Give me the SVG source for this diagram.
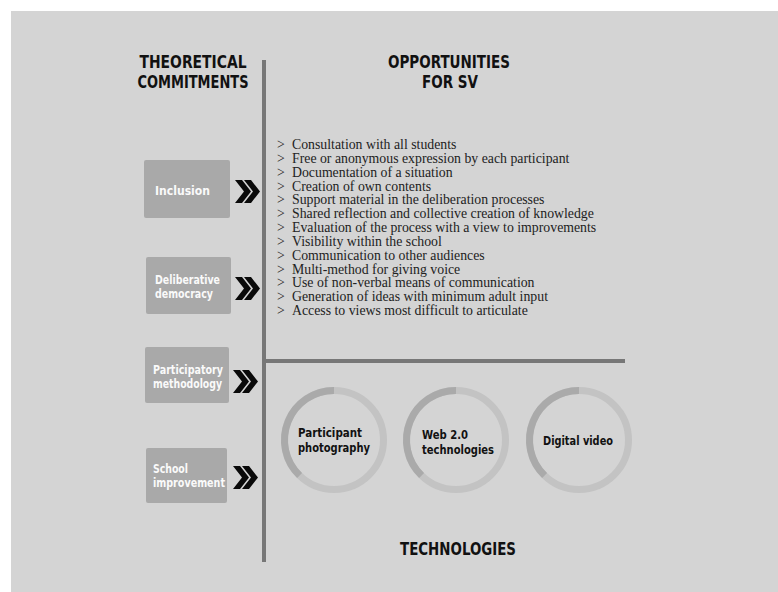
<svg xmlns="http://www.w3.org/2000/svg" width="778" height="592" viewBox="0 0 778 592">
<defs>
<style>
.hdr{font-family:"DejaVu Sans Condensed","DejaVu Sans",sans-serif;font-stretch:condensed;font-weight:bold;font-size:18px;fill:#111;text-anchor:middle}
.box{fill:#a9a9a9}
.blbl{font-family:"DejaVu Sans Condensed","DejaVu Sans",sans-serif;font-stretch:condensed;font-weight:bold;font-size:12px;fill:#fafafa}
.clbl{font-family:"DejaVu Sans Condensed","DejaVu Sans",sans-serif;font-stretch:condensed;font-weight:bold;font-size:13px;fill:#111}
.item{font-family:"Liberation Serif","Times New Roman",serif;font-size:13.8px;fill:#222}
.ring{fill:none;stroke:#c3c3c3;stroke-width:7}
.ringd{fill:none;stroke:#aaaaaa;stroke-width:7}
.line{stroke:#777;stroke-width:4;fill:none}
</style>
<g id="chev"><polygon points="0,0 7,0 16,11.5 7,23 0,23 9,11.5" fill="#0a0a0a"/><polygon points="9,0 16,0 25,11.5 16,23 9,23 18,11.5" fill="#0a0a0a"/></g>
</defs>
<rect width="778" height="592" fill="#ffffff"/>
<rect x="11" y="11" width="767" height="581" fill="#d4d4d4"/>

<g id="headers">
<text class="hdr" x="193" y="68" textLength="107" lengthAdjust="spacingAndGlyphs">THEORETICAL</text>
<text class="hdr" x="193" y="88" textLength="111" lengthAdjust="spacingAndGlyphs">COMMITMENTS</text>
<text class="hdr" x="449" y="68" textLength="122" lengthAdjust="spacingAndGlyphs">OPPORTUNITIES</text>
<text class="hdr" x="450" y="88" textLength="56" lengthAdjust="spacingAndGlyphs">FOR SV</text>
<text class="hdr" x="458" y="555" font-size="19" textLength="116" lengthAdjust="spacingAndGlyphs">TECHNOLOGIES</text>
</g>

<g id="connectors">
<line class="line" x1="264" y1="60" x2="264" y2="562"/>
<line class="line" x1="264" y1="361" x2="625" y2="361"/>
<use href="#chev" x="235" y="180"/>
<use href="#chev" x="235" y="277"/>
<use href="#chev" x="233" y="370"/>
<use href="#chev" x="233" y="466"/>
</g>

<g id="inclusion">
<rect class="box" x="144" y="160" width="86" height="58" rx="2"/>
<text class="blbl" x="155" y="195" font-size="13.5" textLength="55" lengthAdjust="spacingAndGlyphs">Inclusion</text>
</g>
<g id="deliberative">
<rect class="box" x="146" y="257" width="85" height="57" rx="2"/>
<text class="blbl" x="155" y="284" textLength="65" lengthAdjust="spacingAndGlyphs">Deliberative</text>
<text class="blbl" x="155" y="298" textLength="58" lengthAdjust="spacingAndGlyphs">democracy</text>
</g>
<g id="participatory">
<rect class="box" x="145" y="347" width="84" height="56" rx="2"/>
<text class="blbl" x="153" y="374" textLength="70" lengthAdjust="spacingAndGlyphs">Participatory</text>
<text class="blbl" x="153" y="388" textLength="69" lengthAdjust="spacingAndGlyphs">methodology</text>
</g>
<g id="school">
<rect class="box" x="146" y="448" width="81" height="55" rx="2"/>
<text class="blbl" x="153" y="473" textLength="35" lengthAdjust="spacingAndGlyphs">School</text>
<text class="blbl" x="153" y="487" textLength="72" lengthAdjust="spacingAndGlyphs">improvement</text>
</g>

<g id="opportunities">
<text class="item" x="277" y="149">&gt;</text><text class="item" x="292" y="149">Consultation with all students</text>
<text class="item" x="277" y="162.8">&gt;</text><text class="item" x="292" y="162.8">Free or anonymous expression by each participant</text>
<text class="item" x="277" y="176.7">&gt;</text><text class="item" x="292" y="176.7">Documentation of a situation</text>
<text class="item" x="277" y="190.5">&gt;</text><text class="item" x="292" y="190.5">Creation of own contents</text>
<text class="item" x="277" y="204.3">&gt;</text><text class="item" x="292" y="204.3">Support material in the deliberation processes</text>
<text class="item" x="277" y="218.2">&gt;</text><text class="item" x="292" y="218.2">Shared reflection and collective creation of knowledge</text>
<text class="item" x="277" y="232">&gt;</text><text class="item" x="292" y="232">Evaluation of the process with a view to improvements</text>
<text class="item" x="277" y="245.8">&gt;</text><text class="item" x="292" y="245.8">Visibility within the school</text>
<text class="item" x="277" y="259.6">&gt;</text><text class="item" x="292" y="259.6">Communication to other audiences</text>
<text class="item" x="277" y="273.5">&gt;</text><text class="item" x="292" y="273.5">Multi-method for giving voice</text>
<text class="item" x="277" y="287.3">&gt;</text><text class="item" x="292" y="287.3">Use of non-verbal means of communication</text>
<text class="item" x="277" y="301.1">&gt;</text><text class="item" x="292" y="301.1">Generation of ideas with minimum adult input</text>
<text class="item" x="277" y="315">&gt;</text><text class="item" x="292" y="315">Access to views most difficult to articulate</text>
</g>

<g id="photo">
<circle class="ring" cx="334" cy="440" r="49.5"/>
<path class="ringd" d="M299.6,475.6 A49.5,49.5 0 0 1 334,390.5"/>
<text class="clbl" x="298" y="437" textLength="64" lengthAdjust="spacingAndGlyphs">Participant</text>
<text class="clbl" x="298" y="452" textLength="72" lengthAdjust="spacingAndGlyphs">photography</text>
</g>
<g id="web">
<circle class="ring" cx="456" cy="440" r="49.5"/>
<path class="ringd" d="M421.6,475.6 A49.5,49.5 0 0 1 456,390.5"/>
<text class="clbl" x="422" y="439" textLength="46" lengthAdjust="spacingAndGlyphs">Web 2.0</text>
<text class="clbl" x="422" y="454" textLength="72" lengthAdjust="spacingAndGlyphs">technologies</text>
</g>
<g id="video">
<circle class="ring" cx="579" cy="440" r="49.5"/>
<path class="ringd" d="M544.6,475.6 A49.5,49.5 0 0 1 579,390.5"/>
<text class="clbl" x="543" y="445" font-size="14" textLength="70" lengthAdjust="spacingAndGlyphs">Digital video</text>
</g>
</svg>
